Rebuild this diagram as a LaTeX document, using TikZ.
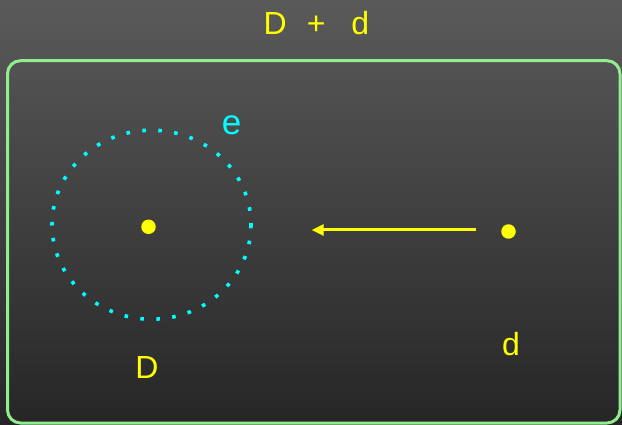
\documentclass[tikz,border=0pt]{standalone}
\usepackage{fontspec}
\setmainfont{Liberation Sans}
\usetikzlibrary{arrows.meta}
\definecolor{bgtop}{HTML}{5A5A5A}
\definecolor{bgbot}{HTML}{262626}
\definecolor{framegreen}{HTML}{90EE90}
\definecolor{ylw}{HTML}{FFFF00}
\definecolor{cyn}{HTML}{00FFFF}
\begin{document}
\begin{tikzpicture}[x=1pt,y=-1pt,
  lbl/.style={text=ylw, font=\fontsize{32}{36}\selectfont, anchor=base, inner sep=0pt},
  elbl/.style={text=cyn, font=\fontsize{35}{40}\selectfont, anchor=base, inner sep=0pt},
  dotnode/.style={circle, fill=ylw, minimum size=14.5pt, inner sep=0pt},
  framebox/.style={draw=framegreen, line width=3pt, rounded corners=13pt},
  orbit/.style={draw=cyn, line width=3.6pt, dash pattern=on 3.6pt off 12.4pt},
  push/.style={draw=ylw, line width=3pt, -{Triangle[length=12pt,width=11pt]}}]
\shade[top color=bgtop, bottom color=bgbot] (0,0) rectangle (622,425);
\useasboundingbox (0,0) rectangle (622,425);
\draw[framebox] (7.5,60.7) rectangle (620,423);
\draw[orbit] (151.5,224.7) ellipse [x radius=99.5, y radius=94.5];
\node[dotnode] (D) at (148.5,226.8) {};
\node[dotnode] (d) at (508.5,231.5) {};
\coordinate (as) at (476,230);
\coordinate (ae) at (311.7,230);
\draw[push] (as) -- (ae);
\node[lbl] (title) at (316.5,34.5) {D\hspace{20pt}+\hspace{26pt}d};
\node[lbl] (Dlab) at (147,378) {D};
\node[lbl] (dlab) at (511,355) {d};
\node[elbl] (elab) at (231.5,135) {e};
\end{tikzpicture}
\end{document}
